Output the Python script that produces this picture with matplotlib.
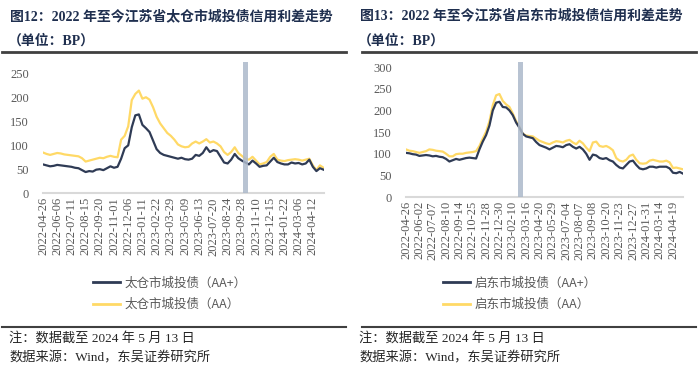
import numpy as np
import matplotlib
matplotlib.use("Agg")
import matplotlib.pyplot as plt
from matplotlib.lines import Line2D

# ---- data (one value every quarter tick interval) ----
tc_ticks = ['2022-04-26', '2022-06-06', '2022-07-11', '2022-08-15', '2022-09-20',
            '2022-11-01', '2022-12-06', '2023-01-11', '2023-02-22', '2023-03-29',
            '2023-05-09', '2023-06-13', '2023-07-20', '2023-08-24', '2023-09-28',
            '2023-11-10', '2023-12-15', '2024-01-22', '2024-03-06', '2024-04-12']
tc_aa_plus = [60, 58, 56, 57, 59, 58, 57, 56, 55, 53, 52, 48, 44, 46, 45, 49,
              50, 48, 52, 56, 53, 55, 72, 94, 100, 138, 163, 165, 143, 136, 128, 110,
              92, 84, 80, 78, 76, 74, 72, 74, 71, 70, 72, 80, 78, 84, 96, 86,
              90, 88, 76, 64, 62, 70, 82, 73, 68, 64, 60, 68, 62, 55, 57, 58,
              66, 74, 65, 62, 60, 60, 64, 62, 63, 60, 62, 70, 55, 46, 52, 49]
tc_aa = [85, 82, 80, 82, 84, 83, 81, 80, 79, 78, 77, 73, 66, 68, 70, 72,
         74, 73, 76, 78, 76, 75, 112, 120, 140, 195, 208, 215, 198, 201, 196, 180,
         160, 146, 136, 126, 120, 112, 102, 98, 96, 97, 104, 108, 104, 108, 113, 106,
         108, 104, 98, 86, 80, 86, 96, 84, 78, 72, 70, 76, 68, 60, 62, 65,
         76, 82, 70, 68, 67, 69, 70, 71, 70, 68, 70, 72, 58, 48, 58, 53]
tc_band = (14.05, 14.45)

qd_ticks = ['2022-04-26', '2022-06-02', '2022-07-07', '2022-08-10', '2022-09-14',
            '2022-10-25', '2022-11-28', '2022-12-30', '2023-02-10', '2023-03-16',
            '2023-04-20', '2023-05-29', '2023-07-04', '2023-08-07', '2023-09-08',
            '2023-10-20', '2023-11-23', '2023-12-27', '2024-01-31', '2024-03-14',
            '2024-04-19']
qd_aa_plus = [102, 101, 99, 98, 95, 96, 97, 96, 94, 95, 93, 92, 88, 82, 85, 88,
              86, 88, 90, 91, 90, 89, 110, 128, 143, 165, 200, 218, 220, 208, 207, 200,
              189, 172, 160, 146, 140, 138, 136, 127, 120, 117, 114, 110, 114, 118, 117, 115,
              120, 122, 116, 112, 116, 110, 100, 86, 98, 96, 90, 88, 90, 85, 82, 74,
              68, 66, 74, 82, 84, 74, 66, 64, 66, 70, 70, 68, 70, 70, 70, 66,
              56, 55, 58, 54]
qd_aa = [110, 107, 106, 104, 102, 104, 106, 110, 109, 107, 106, 105, 100, 94, 94, 99,
         100, 100, 102, 103, 104, 106, 118, 135, 151, 175, 212, 235, 238, 222, 214, 208,
         193, 175, 162, 146, 142, 141, 140, 135, 130, 127, 124, 122, 126, 129, 128, 126,
         130, 132, 126, 122, 130, 124, 114, 106, 126, 128, 118, 116, 118, 114, 108, 90,
         84, 82, 86, 95, 98, 86, 78, 77, 78, 84, 86, 84, 82, 82, 84, 80,
         67, 68, 66, 64]
qd_band = (8.4, 8.75)

titles = ['图12：2022 年至今江苏省太仓市城投债信用利差走势',
          '图13：2022 年至今江苏省启东市城投债信用利差走势']
unit = '（单位：BP）'
legend_labels = [['太仓市城投债（AA+）', '太仓市城投债（AA）'],
                 ['启东市城投债（AA+）', '启东市城投债（AA）']]
note = '注：数据截至 2024 年 5 月 13 日'
source = '数据来源：Wind，东吴证券研究所'

# ---- style ----
SERIF = ['Liberation Serif', 'Noto Sans CJK SC']
CJK = ['Noto Sans CJK SC', 'DejaVu Sans']
plt.rcParams['font.family'] = SERIF
NAVY = '#2F3B55'
GOLD = '#FFD966'
BAND = '#ACB9CA'
GREY = '#595959'
TITLE = '#1F2F4F'

fig = plt.figure(figsize=(7, 3.7), dpi=100)


def panel(rect, ticks, s1, s2, band, ymax, yticks, labels, x0, title):
    ax = fig.add_axes(rect)
    x = np.arange(len(s1)) / 4
    ax.plot(x, s1, color=NAVY, lw=1.6, zorder=2)
    ax.plot(x, s2, color=GOLD, lw=1.6, zorder=1)
    ax.axvspan(band[0], band[1], color=BAND, alpha=0.85, lw=0, zorder=3)
    ax.set_xlim(0, x[-1])
    ax.set_ylim(0, ymax)
    ax.set_yticks(yticks)
    ax.set_xticks(np.arange(len(ticks)))
    ax.set_xticklabels(ticks, rotation=90)
    ax.tick_params(axis='both', length=0, labelsize=9, colors=GREY)
    ax.tick_params(axis='y', pad=10)
    ax.tick_params(axis='x', pad=3)
    for sp in ['top', 'right', 'left']:
        ax.spines[sp].set_visible(False)
    ax.spines['bottom'].set_color('#D9D9D9')
    ax.spines['bottom'].set_linewidth(1.5)

    # legend below the axes
    handles = [Line2D([], [], color=NAVY, lw=2), Line2D([], [], color=GOLD, lw=2)]
    fig.legend(handles, labels, loc='center',
               bbox_to_anchor=((x0 + 170) / 700, 0.206), frameon=False,
               handlelength=2.1, handletextpad=0.4, labelspacing=0.7,
               prop={'family': CJK, 'size': 9}, labelcolor=GREY)

    # titles, rules and notes
    fig.text((x0 + 10) / 700, 1 - 16 / 370, title, family=SERIF, weight='bold',
             fontsize=10, color=TITLE, va='center')
    fig.text((x0 + 8) / 700, 1 - 41 / 370, unit, family=SERIF, weight='bold',
             fontsize=10, color=TITLE, va='center')
    left = 2 if x0 == 0 else 12
    fig.add_artist(Line2D([(x0 + left) / 700, (x0 + 346) / 700],
                          [1 - 52 / 370, 1 - 52 / 370], color='#404040', lw=2))
    fig.add_artist(Line2D([(x0 + left) / 700, (x0 + 346) / 700],
                          [1 - 327 / 370, 1 - 327 / 370], color='#404040', lw=1.5))
    fig.text((x0 + 9) / 700, 1 - 338 / 370, note, family=SERIF, fontsize=9.5,
             color='#262626', va='center')
    fig.text((x0 + 9) / 700, 1 - 358 / 370, source, family=SERIF, fontsize=9.5,
             color='#262626', va='center')
    return ax


panel([43 / 700, 1 - 193 / 370, 280.5 / 700, 131 / 370], tc_ticks, tc_aa_plus, tc_aa,
      tc_band, 275, [0, 50, 100, 150, 200, 250], legend_labels[0], 0, titles[0])
panel([406 / 700, 1 - 197 / 370, 277 / 700, 135 / 370], qd_ticks, qd_aa_plus, qd_aa,
      qd_band, 312, [0, 50, 100, 150, 200, 250, 300], legend_labels[1], 350, titles[1])

fig.savefig('out.png', dpi=100)
